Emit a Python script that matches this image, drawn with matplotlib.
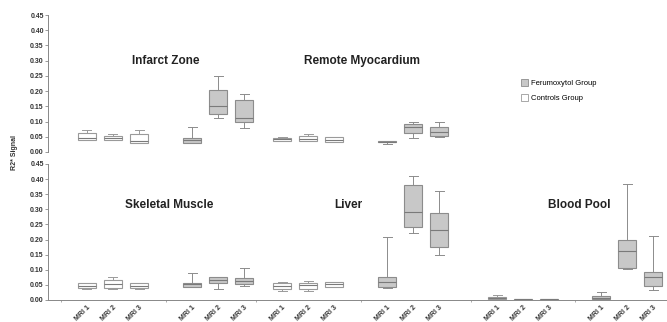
import matplotlib
matplotlib.use("Agg")
import matplotlib.pyplot as plt
from matplotlib.patches import Patch

plt.rcParams['font.family'] = ['Liberation Sans', 'DejaVu Sans']

# R2* values: [whisker low, q1, median, q3, whisker high]
mri_labels = ['MRI 1', 'MRI 2', 'MRI 3']

infarct_ctrl = [[0.040, 0.040, 0.045, 0.062, 0.071],
                [0.040, 0.040, 0.045, 0.051, 0.060],
                [0.029, 0.029, 0.037, 0.059, 0.071]]
infarct_feru = [[0.029, 0.029, 0.040, 0.045, 0.081],
                [0.111, 0.125, 0.152, 0.205, 0.249],
                [0.080, 0.100, 0.111, 0.172, 0.191]]
remote_ctrl = [[0.036, 0.037, 0.042, 0.047, 0.048],
               [0.036, 0.036, 0.044, 0.053, 0.060],
               [0.034, 0.034, 0.040, 0.049, 0.050]]
remote_feru = [[0.025, 0.032, 0.034, 0.036, 0.037],
               [0.045, 0.064, 0.081, 0.092, 0.098],
               [0.048, 0.051, 0.067, 0.082, 0.097]]
skeletal_ctrl = [[0.037, 0.041, 0.047, 0.055, 0.057],
                 [0.036, 0.041, 0.053, 0.066, 0.077],
                 [0.036, 0.041, 0.047, 0.057, 0.057]]
skeletal_feru = [[0.044, 0.044, 0.052, 0.057, 0.088],
                 [0.035, 0.055, 0.066, 0.075, 0.075],
                 [0.046, 0.053, 0.063, 0.072, 0.107]]
liver_ctrl = [[0.031, 0.035, 0.045, 0.057, 0.059],
              [0.030, 0.037, 0.051, 0.057, 0.063],
              [0.042, 0.044, 0.052, 0.058, 0.061]]
liver_feru = [[0.040, 0.044, 0.061, 0.075, 0.210],
              [0.221, 0.240, 0.290, 0.381, 0.411],
              [0.150, 0.175, 0.232, 0.287, 0.361]]
blood_ctrl = [[0.002, 0.002, 0.006, 0.009, 0.016],
              [0.001, 0.001, 0.002, 0.004, 0.004],
              [0.001, 0.001, 0.002, 0.004, 0.004]]
blood_feru = [[0.002, 0.002, 0.008, 0.014, 0.025],
              [0.103, 0.107, 0.163, 0.199, 0.383],
              [0.033, 0.047, 0.075, 0.094, 0.212]]

top_titles = ['Infarct Zone', 'Remote Myocardium']
bottom_titles = ['Skeletal Muscle', 'Liver', 'Blood Pool']

# layout (pixel units of the 667x322 canvas)
W, H = 667, 322
group_centers = [113, 218, 308, 413, 523, 627]
step = 26

feru_face = '#c8c8c8'
feru_edge = '#8c8c8c'
ctrl_edge = '#9a9a9a'


def stats(rows):
    out = []
    for r in rows:
        out.append({'whislo': r[0], 'q1': r[1], 'med': r[2], 'q3': r[3], 'whishi': r[4], 'fliers': []})
    return out


def draw_group(ax, rows, center, feru):
    pos = [center - step, center, center + step]
    edge = feru_edge if feru else ctrl_edge
    face = feru_face if feru else 'white'
    ax.bxp(stats(rows), positions=pos, widths=18, patch_artist=True, manage_ticks=False,
           boxprops=dict(facecolor=face, edgecolor=edge, linewidth=0.8),
           medianprops=dict(color='#7a7a7a', linewidth=0.8),
           whiskerprops=dict(color=edge, linewidth=0.7),
           capprops=dict(color=edge, linewidth=0.7))


fig = plt.figure(figsize=(W / 100, H / 100), dpi=100)
ax_top = fig.add_axes([48 / W, (H - 152) / H, (W - 48) / W, 137 / H])
ax_bot = fig.add_axes([48 / W, (H - 300) / H, (W - 48) / W, 136 / H])

top_data = [infarct_ctrl, infarct_feru, remote_ctrl, remote_feru]
bot_data = [skeletal_ctrl, skeletal_feru, liver_ctrl, liver_feru, blood_ctrl, blood_feru]

for i, rows in enumerate(top_data):
    draw_group(ax_top, rows, group_centers[i], i % 2 == 1)
for i, rows in enumerate(bot_data):
    draw_group(ax_bot, rows, group_centers[i], i % 2 == 1)

yt = [i * 0.05 for i in range(10)]
for ax in (ax_top, ax_bot):
    ax.set_xlim(48, W)
    ax.set_ylim(0, 0.45)
    ax.set_yticks(yt)
    ax.set_yticklabels(['%.2f' % v for v in yt], fontsize=5, fontweight='bold', color='#333333')
    ax.tick_params(axis='y', length=2, width=0.6, pad=1, color='#888888')
    for s in ('top', 'right'):
        ax.spines[s].set_visible(False)
    ax.spines['left'].set_color('#888888')
    ax.spines['left'].set_linewidth(0.7)

ax_top.spines['bottom'].set_visible(False)
ax_top.set_xticks([])

xt = []
for c in group_centers:
    xt += [c - step, c, c + step]
ax_bot.set_xticks(xt)
ax_bot.set_xticklabels(mri_labels * 6, rotation=45, ha='right', va='top', rotation_mode='anchor',
                       fontsize=5, fontweight='bold', color='#333333')
ax_bot.tick_params(axis='x', length=0, pad=3)
ax_bot.set_xticks([c - 2 * step for c in group_centers], minor=True)
ax_bot.tick_params(axis='x', which='minor', length=1.5, width=0.5, color='#888888')
ax_bot.spines['bottom'].set_color('#888888')
ax_bot.spines['bottom'].set_linewidth(0.7)

# panel titles
for t, x in zip(top_titles, [166, 362]):
    fig.text(x / W, 1 - 61 / H, t, ha='center', va='center', fontsize=8.5, fontweight='bold', color='#222222')
for t, x in zip(bottom_titles, [169, 348, 579]):
    fig.text(x / W, 1 - 205 / H, t, ha='center', va='center', fontsize=8.5, fontweight='bold', color='#222222')

fig.text(14 / W, 1 - 152 / H, 'R2* Signal', rotation=90, ha='center', va='center',
         fontsize=5, fontweight='bold', color='#333333')

handles = [Patch(facecolor=feru_face, edgecolor=feru_edge, linewidth=0.6, label='Ferumoxytol Group'),
           Patch(facecolor='white', edgecolor=ctrl_edge, linewidth=0.6, label='Controls Group')]
fig.legend(handles=handles, loc='upper left', bbox_to_anchor=(514 / W, 1 - 72 / H), frameon=False,
           fontsize=5.5, handlelength=0.9, handleheight=1.1, handletextpad=0.4, labelspacing=0.9)

fig.savefig('out.png', dpi=100)
